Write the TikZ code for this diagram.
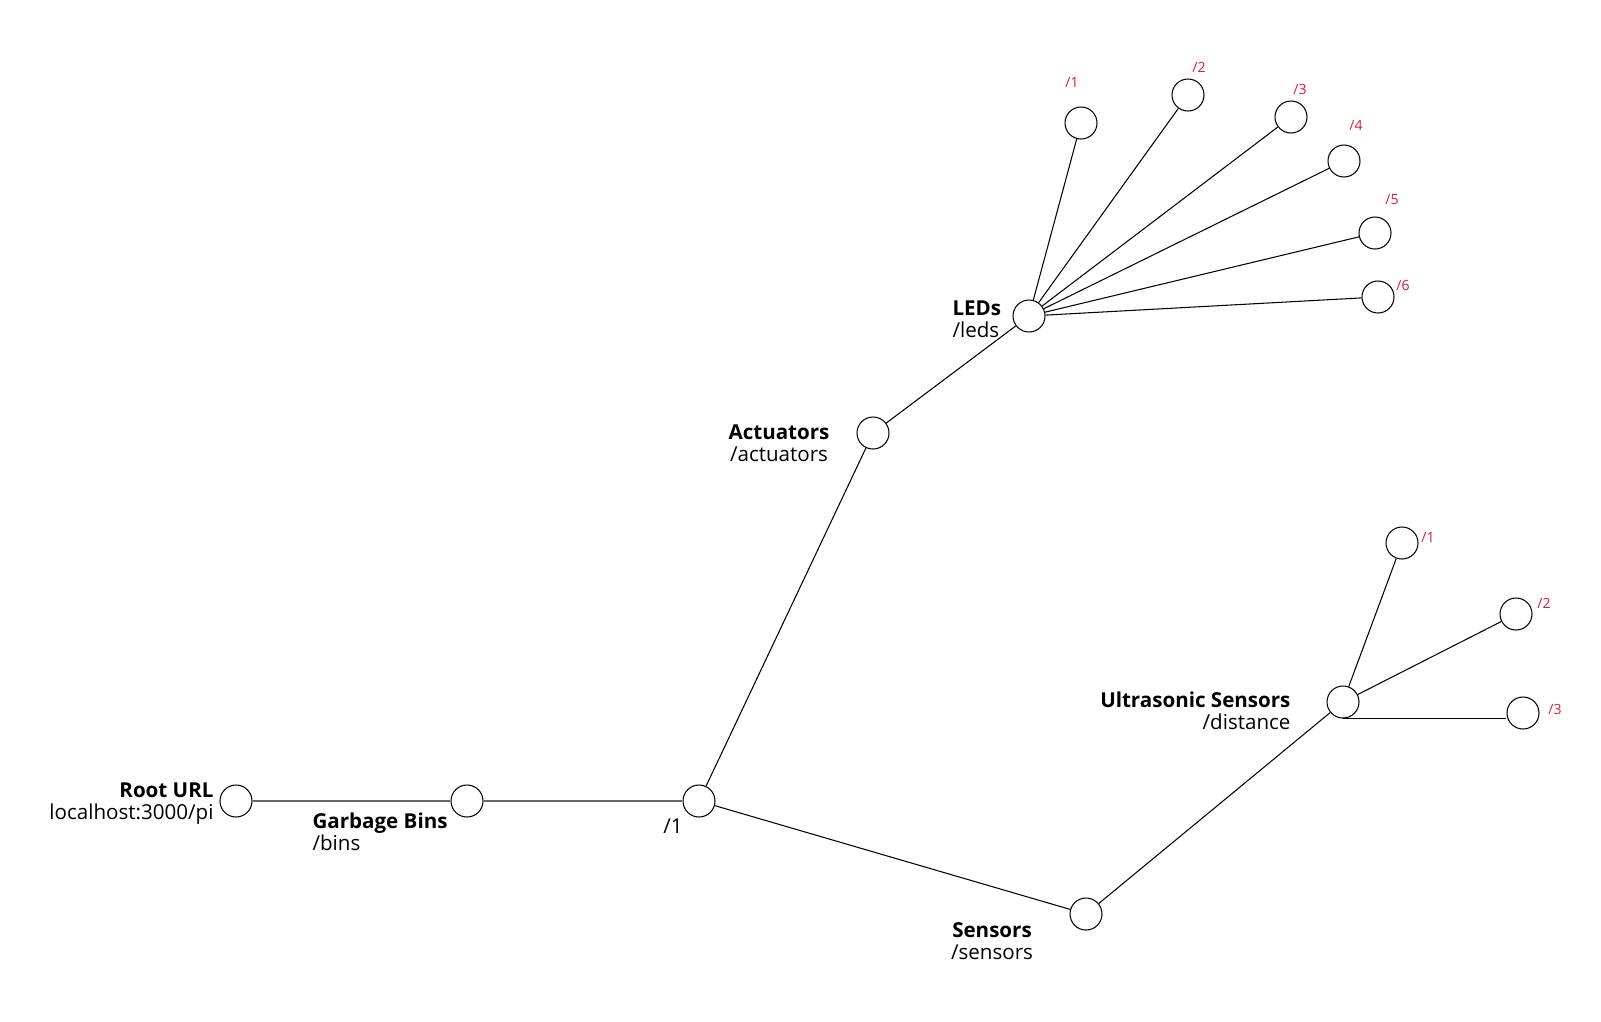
\documentclass[tikz,border=0pt]{standalone}
\usepackage{fontspec}
\setmainfont{Open Sans}
\usetikzlibrary{positioning}
\definecolor{urlred}{RGB}{215,30,50}

\begin{document}
\begin{tikzpicture}[x=0.2mm, y=-0.2mm, line width=0.6pt,
    res/.style = {draw, circle, minimum size=6.4mm, inner sep=0pt},
    lbl/.style = {font=\fontsize{11.7}{12.4}\selectfont, inner sep=0pt},
    sub/.style = {font=\fontsize{8}{9}\selectfont, text=urlred, inner sep=0pt}]
        \useasboundingbox (0,0) rectangle (1601,1021);

        \node[res] (root) at (236,801) {};
        \node[res] (bins) at (467,801) {};
        \node[res] (one) at (699,801) {};
        \node[res] (act) at (873,433) {};
        \node[res] (leds) at (1029,316) {};
        \node[res] (sens) at (1086,914) {};
        \node[res] (ultra) at (1343,702) {};

        \node[res] (led1) at (1081,123) {};
        \node[res] (led2) at (1188,95) {};
        \node[res] (led3) at (1291,117) {};
        \node[res] (led4) at (1344,161) {};
        \node[res] (led5) at (1375,233) {};
        \node[res] (led6) at (1378,297) {};

        \node[res] (dist1) at (1402,543) {};
        \node[res] (dist2) at (1516,614) {};
        \node[res] (dist3) at (1523,713) {};

        \node[lbl, align=right, anchor=east] (rootlbl) at (214,804) {\textbf{Root URL}\\localhost:3000/pi};
        \node[lbl, align=left, anchor=west] (binslbl) at (312,832) {\textbf{Garbage Bins}\\/bins};
        \node[lbl] (onelbl) at (673,826) {/1};
        \node[lbl, align=center] (actlbl) at (779,443) {\textbf{Actuators}\\/actuators};
        \node[lbl, align=left, anchor=west] (ledslbl) at (952,319) {\textbf{LEDs}\\/leds};
        \node[lbl, align=center] (senslbl) at (992,941) {\textbf{Sensors}\\/sensors};
        \node[lbl, align=right, anchor=east] (ultralbl) at (1291,711) {\textbf{Ultrasonic Sensors}\\/distance};

        \node[sub] (led1lbl) at (1072,82) {/1};
        \node[sub] (led2lbl) at (1199,67) {/2};
        \node[sub] (led3lbl) at (1300,89) {/3};
        \node[sub] (led4lbl) at (1356,125) {/4};
        \node[sub] (led5lbl) at (1392,200) {/5};
        \node[sub] (led6lbl) at (1403,285) {/6};
        \node[sub] (dist1lbl) at (1428,537) {/1};
        \node[sub] (dist2lbl) at (1544,603) {/2};
        \node[sub] (dist3lbl) at (1555,709) {/3};

        \draw[black!60] (root) -- (bins);
        \draw[black!60] (bins) -- (one);
        \draw (one) -- (act);
        \draw (one) -- (sens);
        \draw (act) -- (leds);
        \draw (sens) -- (ultra);

        \foreach \i in {1,...,6}
            \draw (leds) -- (led\i);

        \draw (ultra) -- (dist1);
        \draw (ultra) -- (dist2);
        \draw (ultra.south) -- (ultra.south -| dist3.west);
    \end{tikzpicture}
\end{document}
